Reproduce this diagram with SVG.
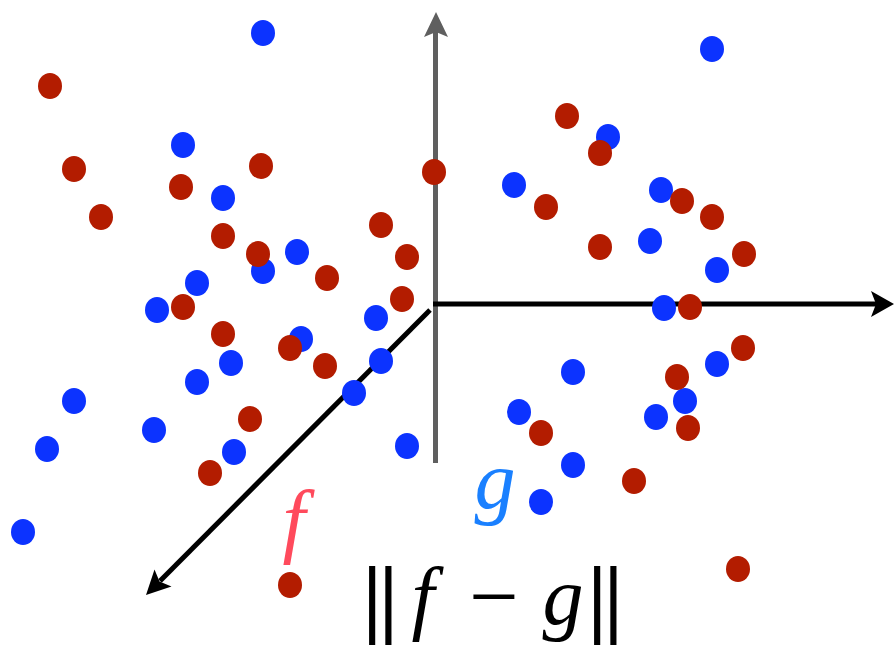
<svg xmlns="http://www.w3.org/2000/svg" width="894" height="647" viewBox="0 0 894 647">
<style>
.r{fill:#b31c00}
.b{fill:#0c33ff}
.ax{fill:none;stroke-width:5}
.tx{font-family:"Liberation Serif",serif;font-size:82px}
.it{font-style:italic}
.bar{font-family:"DejaVu Serif",serif;font-size:78px;letter-spacing:-10px}
.mn{font-size:88px}
</style>
<rect width="894" height="647" fill="#fff"/>
<g id="connectors">
<g id="axis-y">
<line class="ax" x1="435.5" y1="463" x2="435.5" y2="30" stroke="#5f5f5f"/>
<path d="M436,12 L448,37 L436,32 L424,37 Z" fill="#5f5f5f"/>
</g>
<g id="axis-x">
<line class="ax" x1="433" y1="304" x2="878" y2="304" stroke="#000"/>
<path d="M894,304 L871,291 L876,304 L871,317 Z" fill="#000"/>
</g>
<g id="axis-z">
<line class="ax" x1="430" y1="310" x2="160" y2="581" stroke="#000"/>
<path d="M146,595 L154.5,569.5 L159.5,581.5 L171.5,586.5 Z" fill="#000"/>
</g>
</g>
<g id="blue-points" class="b">
<ellipse cx="263" cy="33" rx="12" ry="13"/>
<ellipse cx="712" cy="49" rx="12" ry="13"/>
<ellipse cx="183" cy="145" rx="12" ry="13"/>
<ellipse cx="223" cy="198" rx="12" ry="13"/>
<ellipse cx="297" cy="252" rx="12" ry="13"/>
<ellipse cx="263" cy="271" rx="12" ry="13"/>
<ellipse cx="197" cy="283" rx="12" ry="13"/>
<ellipse cx="157" cy="310" rx="12" ry="13"/>
<ellipse cx="301" cy="339" rx="12" ry="13"/>
<ellipse cx="231" cy="363" rx="12" ry="13"/>
<ellipse cx="197" cy="382" rx="12" ry="13"/>
<ellipse cx="376" cy="318" rx="12" ry="13"/>
<ellipse cx="381" cy="361" rx="12" ry="13"/>
<ellipse cx="354" cy="393" rx="12" ry="13"/>
<ellipse cx="74" cy="401" rx="12" ry="13"/>
<ellipse cx="154" cy="430" rx="12" ry="13"/>
<ellipse cx="234" cy="452" rx="12" ry="13"/>
<ellipse cx="47" cy="449" rx="12" ry="13"/>
<ellipse cx="23" cy="532" rx="12" ry="13"/>
<ellipse cx="407" cy="446" rx="12" ry="13"/>
<ellipse cx="608" cy="137" rx="12" ry="13"/>
<ellipse cx="514" cy="185" rx="12" ry="13"/>
<ellipse cx="661" cy="190" rx="12" ry="13"/>
<ellipse cx="650" cy="241" rx="12" ry="13"/>
<ellipse cx="717" cy="270" rx="12" ry="13"/>
<ellipse cx="664" cy="308" rx="12" ry="13"/>
<ellipse cx="717" cy="364" rx="12" ry="13"/>
<ellipse cx="573" cy="372" rx="12" ry="13"/>
<ellipse cx="519" cy="412" rx="12" ry="13"/>
<ellipse cx="685" cy="401" rx="12" ry="13"/>
<ellipse cx="656" cy="417" rx="12" ry="13"/>
<ellipse cx="573" cy="465" rx="12" ry="13"/>
<ellipse cx="541" cy="502" rx="12" ry="13"/>
</g>
<g id="red-points" class="r">
<ellipse cx="50" cy="86" rx="12" ry="13"/>
<ellipse cx="74" cy="169" rx="12" ry="13"/>
<ellipse cx="101" cy="217" rx="12" ry="13"/>
<ellipse cx="181" cy="187" rx="12" ry="13"/>
<ellipse cx="261" cy="166" rx="12" ry="13"/>
<ellipse cx="223" cy="236" rx="12" ry="13"/>
<ellipse cx="258" cy="254" rx="12" ry="13"/>
<ellipse cx="327" cy="278" rx="12" ry="13"/>
<ellipse cx="183" cy="307" rx="12" ry="13"/>
<ellipse cx="223" cy="334" rx="12" ry="13"/>
<ellipse cx="290" cy="348" rx="12" ry="13"/>
<ellipse cx="325" cy="366" rx="12" ry="13"/>
<ellipse cx="381" cy="225" rx="12" ry="13"/>
<ellipse cx="407" cy="257" rx="12" ry="13"/>
<ellipse cx="402" cy="299" rx="12" ry="13"/>
<ellipse cx="250" cy="419" rx="12" ry="13"/>
<ellipse cx="210" cy="473" rx="12" ry="13"/>
<ellipse cx="290" cy="585" rx="12" ry="13"/>
<ellipse cx="434" cy="172" rx="12" ry="13"/>
<ellipse cx="567" cy="116" rx="12" ry="13"/>
<ellipse cx="600" cy="153" rx="12" ry="13"/>
<ellipse cx="546" cy="207" rx="12" ry="13"/>
<ellipse cx="600" cy="247" rx="12" ry="13"/>
<ellipse cx="682" cy="201" rx="12" ry="13"/>
<ellipse cx="712" cy="217" rx="12" ry="13"/>
<ellipse cx="744" cy="254" rx="12" ry="13"/>
<ellipse cx="690" cy="307" rx="12" ry="13"/>
<ellipse cx="743" cy="348" rx="12" ry="13"/>
<ellipse cx="677" cy="377" rx="12" ry="13"/>
<ellipse cx="688" cy="428" rx="12" ry="13"/>
<ellipse cx="541" cy="433" rx="12" ry="13"/>
<ellipse cx="634" cy="481" rx="12" ry="13"/>
<ellipse cx="738" cy="569" rx="12" ry="13"/>
</g>
<g id="label-f"><text class="tx it" x="294" y="547" text-anchor="middle" fill="#ff4a5c">f</text></g>
<g id="label-g"><text class="tx it" x="495" y="508" text-anchor="middle" fill="#1a80ff">g</text></g>
<g id="label-norm">
<text class="tx" y="624" fill="#000"><tspan class="bar" x="359" y="626">||</tspan><tspan class="it" x="423" y="624" text-anchor="middle">f</tspan><tspan class="mn" x="494" y="626" text-anchor="middle">−</tspan><tspan class="it" x="563" y="624" text-anchor="middle">g</tspan><tspan class="bar" x="584" y="626">||</tspan></text>
</g>
</svg>
